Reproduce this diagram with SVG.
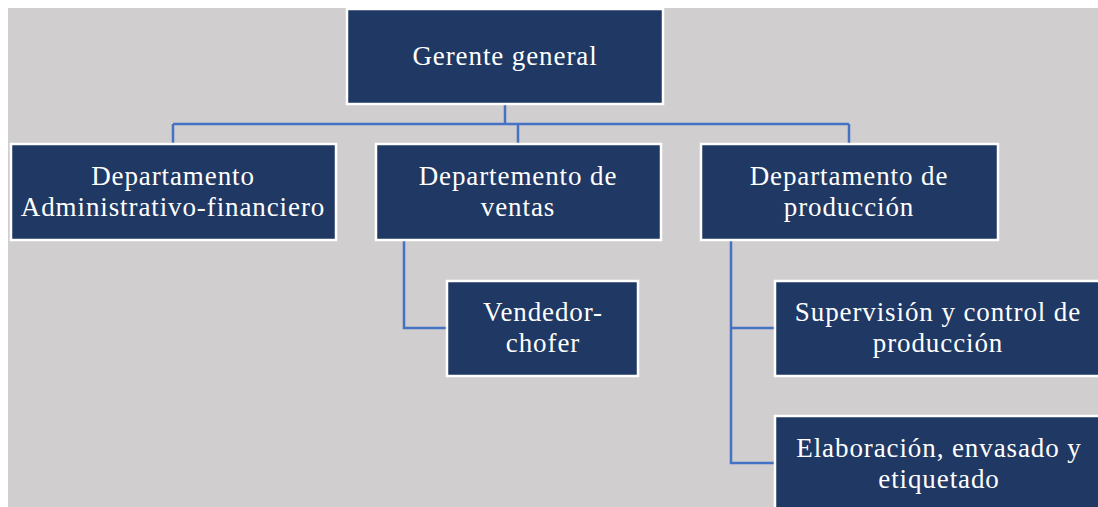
<svg xmlns="http://www.w3.org/2000/svg" width="1098" height="507" viewBox="0 0 1098 507">
<style>
.box{fill:#203864;stroke:#ffffff;stroke-width:2.5}
.lbl{font-family:"Liberation Serif","Times New Roman",serif;font-size:27px;letter-spacing:0.9px;fill:#ffffff;text-anchor:middle}
.con{fill:none;stroke:#4472C4;stroke-width:2.5}
</style>
<rect x="0" y="0" width="1098" height="507" fill="#ffffff"/>
<rect x="8" y="8" width="1090" height="499" fill="#D0CECE"/>
<g id="connectors">
<path class="con" d="M505 105V124M173 124H849M173 124V143M518 124V143M849 124V143"/>
<path class="con" d="M404 241V328H447"/>
<path class="con" d="M731 241V463H775M731 328H775"/>
</g>
<g id="gerente"><rect class="box" x="347" y="9" width="316" height="95"/><text class="lbl" x="505" y="65">Gerente general</text></g>
<g id="admin"><rect class="box" x="11" y="144" width="325" height="96"/><text class="lbl" x="173" y="185">Departamento</text><text class="lbl" x="173" y="216">Administrativo-financiero</text></g>
<g id="ventas"><rect class="box" x="376" y="144" width="285" height="96"/><text class="lbl" x="518" y="185">Departemento de</text><text class="lbl" x="518" y="216">ventas</text></g>
<g id="produccion"><rect class="box" x="701" y="144" width="297" height="96"/><text class="lbl" x="849" y="185">Departamento de</text><text class="lbl" x="849" y="216">producción</text></g>
<g id="vendedor"><rect class="box" x="447" y="281" width="191" height="95"/><text class="lbl" x="543" y="321">Vendedor-</text><text class="lbl" x="543" y="352">chofer</text></g>
<g id="supervision"><rect class="box" x="775" y="281" width="330" height="95"/><text class="lbl" x="938" y="321">Supervisión y control de</text><text class="lbl" x="938" y="352">producción</text></g>
<g id="elaboracion"><rect class="box" x="775" y="416" width="330" height="95"/><text class="lbl" x="939" y="457">Elaboración, envasado y</text><text class="lbl" x="939" y="488">etiquetado</text></g>
</svg>
